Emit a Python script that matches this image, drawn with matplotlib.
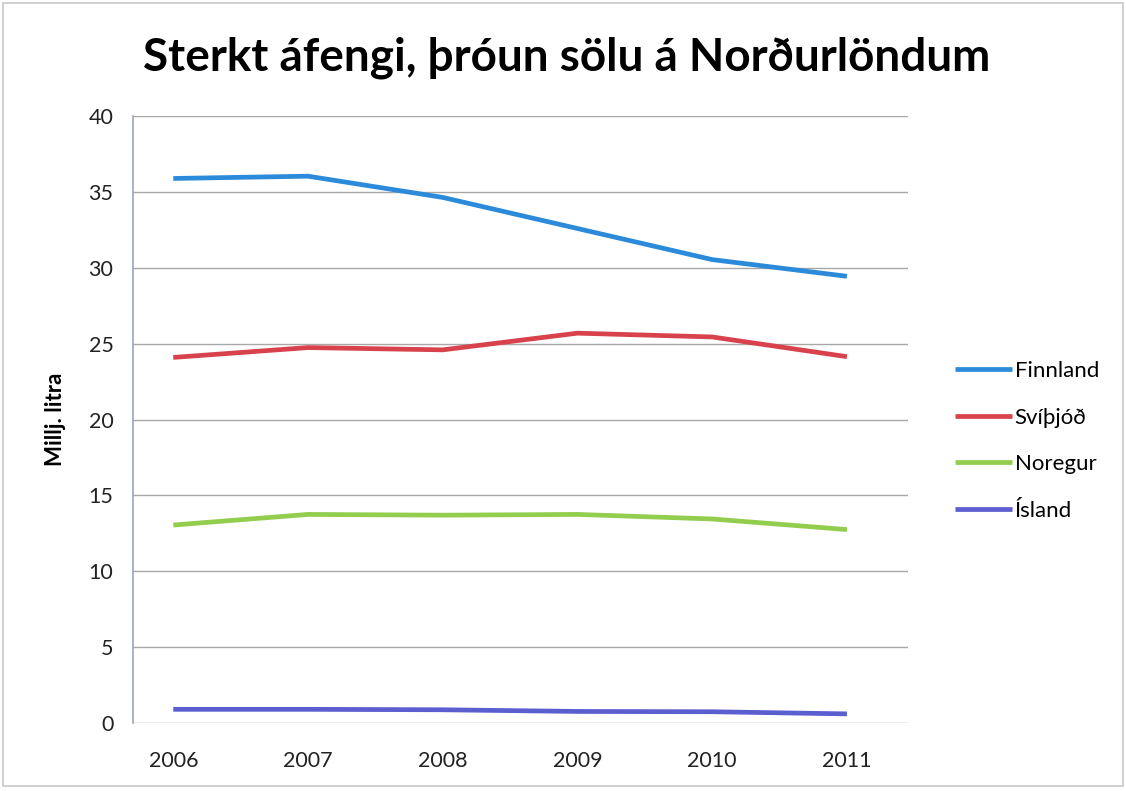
import matplotlib.pyplot as plt
from matplotlib.patches import Rectangle

years = ["2006", "2007", "2008", "2009", "2010", "2011"]
finnland = [35.9, 36.05, 34.65, 32.6, 30.55, 29.45]
svithjod = [24.1, 24.75, 24.6, 25.7, 25.45, 24.15]
noregur = [13.05, 13.75, 13.7, 13.75, 13.45, 12.75]
island = [0.9, 0.9, 0.87, 0.76, 0.74, 0.6]

series = [
    ("Finnland", finnland, "#2b8ad9"),
    ("Svíþjóð", svithjod, "#d8424c"),
    ("Noregur", noregur, "#92cd4e"),
    ("Ísland", island, "#5b5ecf"),
]

plt.rcParams['font.family'] = ['Lato', 'DejaVu Sans']

fig = plt.figure(figsize=(11.26, 7.91), dpi=100)
ax = fig.add_axes([0.118, 0.086, 0.688, 0.767])

x = list(range(len(years)))
for name, vals, col in series:
    ax.plot(x, vals, color=col, linewidth=3.4, label=name, solid_capstyle='butt')

ax.set_xlim(-0.3, 5.45)
ax.set_ylim(0, 40)
ax.set_yticks(range(0, 41, 5))
ax.set_xticks(x)
ax.set_xticklabels(years)
ax.tick_params(axis='both', length=0, labelsize=15.5, colors='#222222')
ax.tick_params(axis='x', pad=20)
ax.tick_params(axis='y', pad=14)
ax.grid(axis='y', color='#a8a8a8', linewidth=1)
ax.set_axisbelow(True)
for s in ['top', 'right', 'bottom']:
    ax.spines[s].set_visible(False)
ax.spines['left'].set_color('#9aa4c0')
ax.spines['left'].set_linewidth(1.2)

ax.set_ylabel("Millj. litra", fontsize=16, fontweight='bold', labelpad=16)

fig.text(0.503, 0.927, "Sterkt áfengi, þróun sölu á Norðurlöndum",
         ha='center', va='center', fontsize=33, fontweight='bold')

leg = ax.legend(loc='center left', bbox_to_anchor=(1.035, 0.465), frameon=False,
                fontsize=16, handlelength=2.6, handletextpad=0.1, labelspacing=1.2)

fig.patches.append(Rectangle((0.003, 0.006), 0.994, 0.99, transform=fig.transFigure,
                             fill=False, edgecolor='#c8c8c8', linewidth=1.2))

fig.savefig("out.png", dpi=100)
